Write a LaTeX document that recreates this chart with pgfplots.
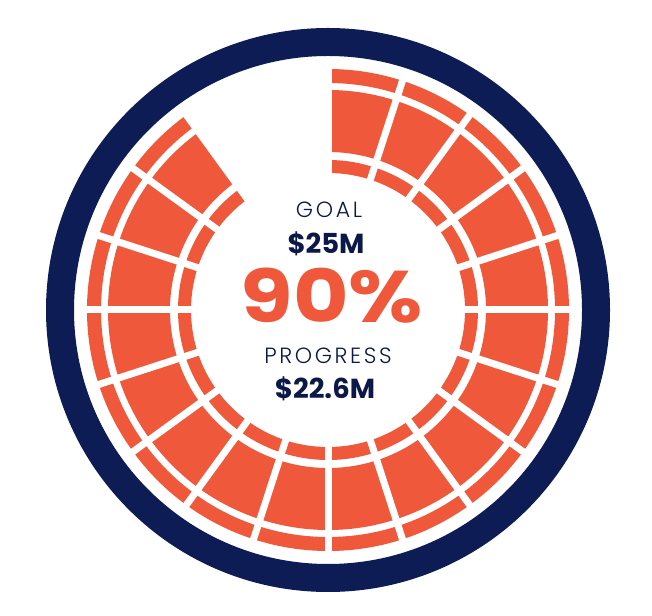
\documentclass[border=0pt]{standalone}
\usepackage{pgfplots}
\pgfplotsset{compat=1.18}
\usepackage{fontspec}
\setmainfont{Poppins}
\newfontfamily\lightfont{Poppins Light}[LetterSpace=12]
\definecolor{orng}{HTML}{EF583B}
\definecolor{navy}{HTML}{0E1C55}
\definecolor{txtnavy}{HTML}{0B1848}
% data
\def\goal{25}
\def\progress{22.6}
\def\nseg{20}
\pgfmathtruncatemacro{\nfill}{\nseg*\progress/\goal}
\pgfmathsetmacro{\endang}{90-360/\nseg*\nfill}
\begin{document}
\begin{tikzpicture}
\begin{axis}[x=1pt,y=1pt,xmin=0,xmax=652,ymin=0,ymax=615,hide axis,scale only axis,clip=false]
\path (axis cs:0,0) rectangle (axis cs:652,615);
\begin{scope}[shift={(axis cs:328,305)}]
\draw[navy,line width=28pt] (0,0) circle[radius=268pt];
\fill[orng] (90:137pt) arc[start angle=90,end angle=\endang,radius=137pt] -- (\endang:150pt) arc[start angle=\endang,end angle=90,radius=150pt] -- cycle;
\fill[orng] (90:158pt) arc[start angle=90,end angle=\endang,radius=158pt] -- (\endang:220pt) arc[start angle=\endang,end angle=90,radius=220pt] -- cycle;
\fill[orng] (90:227pt) arc[start angle=90,end angle=\endang,radius=227pt] -- (\endang:241pt) arc[start angle=\endang,end angle=90,radius=241pt] -- cycle;
\pgfplotsinvokeforeach{0,...,18}{\draw[white,line width=7pt] ({90-18*#1}:130pt) -- ({90-18*#1}:246pt);}
\end{scope}
\node[txtnavy,font=\lightfont\fontsize{22}{22}\selectfont] at (axis cs:329,405) {GOAL};
\node[txtnavy,font=\bfseries\fontsize{27.5}{27.5}\selectfont] at (axis cs:326,371) {\$25M};
\node[orng,font=\bfseries\fontsize{73}{73}\selectfont] at (axis cs:332,319) {\scalebox{1.17}[1]{90\%}};
\node[txtnavy,font=\lightfont\fontsize{22}{22}\selectfont] at (axis cs:328,259) {PROGRESS};
\node[txtnavy,font=\bfseries\fontsize{27.5}{27.5}\selectfont] at (axis cs:325,226) {\$22.6M};
\end{axis}
\end{tikzpicture}
\end{document}
